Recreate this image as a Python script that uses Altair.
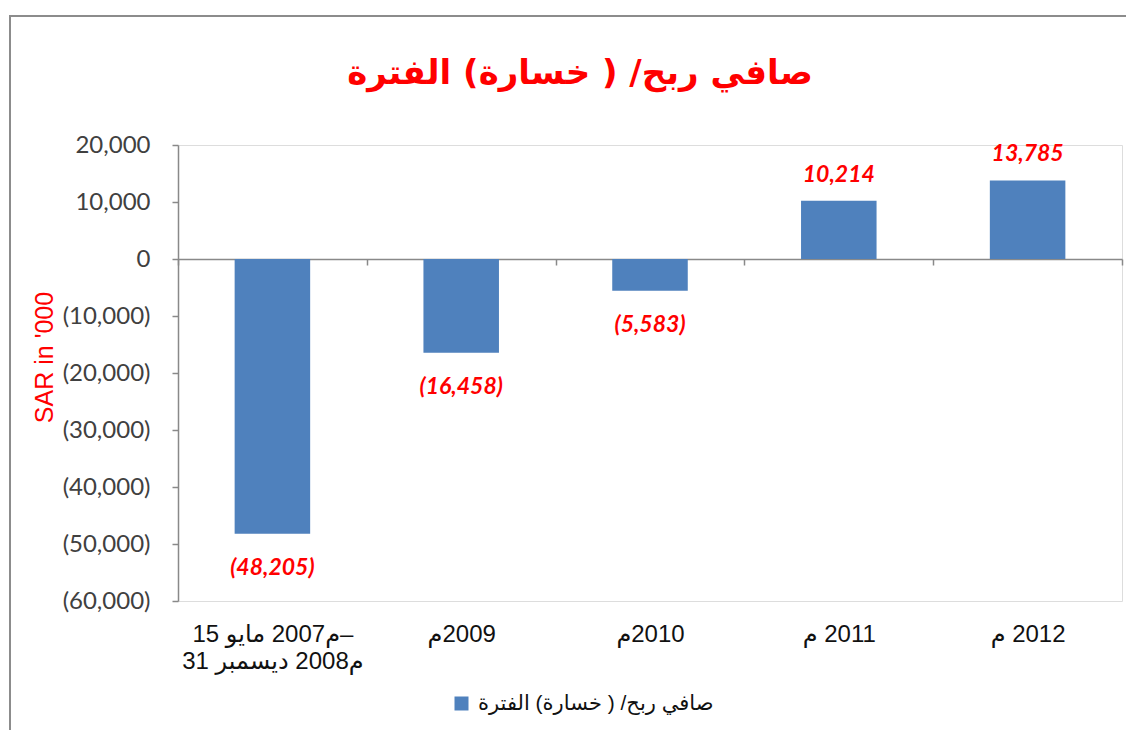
import altair as alt
import pandas as pd

LRM = "\u200e"
categories = [
    LRM + "15 مايو " + LRM + "2007م" + LRM + "–|" + LRM + "31 ديسمبر " + LRM + "2008م",
    LRM + "م" + LRM + "2009",
    LRM + "م" + LRM + "2010",
    LRM + "م " + LRM + "2011",
    LRM + "م " + LRM + "2012",
]
values = [-48205, -16458, -5583, 10214, 13785]
series_name = "صافي ربح/ ( خسارة) الفترة"
y_ticks = [20000, 10000, 0, -10000, -20000, -30000, -40000, -50000, -60000]
chart_title = "صافي ربح/ ( خسارة) الفترة"
y_title = "SAR in '000"

df = pd.DataFrame({"cat": categories, "value": values, "series": [series_name] * len(values)})

AX = "#898989"
ARFONT = "Liberation Sans, DejaVu Sans"

base = alt.Chart(df).transform_calculate(
    lbl="datum.value < 0 ? '(' + format(-datum.value, ',') + ')' : format(datum.value, ',')"
)

x_enc = alt.X(
    "cat:N",
    sort=categories,
    scale=alt.Scale(paddingInner=0, paddingOuter=0),
    axis=alt.Axis(
        title=None,
        orient="bottom",
        offset=-342,
        domainColor=AX,
        domainWidth=1.5,
        tickColor=AX,
        tickWidth=1.5,
        tickSize=6,
        tickBand="extent",
        labelPadding=357,
        labelFont=ARFONT,
        labelFontSize=24,
        labelColor="#111111",
        labelAngle=0,
        labelLimit=400,
        labelExpr="split(datum.label, '|')",
        labelLineHeight=27,
    ),
)

y_enc = alt.Y(
    "value:Q",
    scale=alt.Scale(domain=[-60000, 20000], nice=False, zero=False),
    axis=alt.Axis(
        values=y_ticks,
        title=y_title,
        titleColor="#ff0000",
        titleFont="Liberation Sans",
        titleFontSize=25,
        titleFontWeight="normal",
        titleX=-121,
        titleY=212,
        labelExpr="datum.value < 0 ? '(' + format(-datum.value, ',') + ')' : format(datum.value, ',')",
        labelFont="Lato",
        labelFontSize=24,
        labelColor="#404040",
        labelPadding=22,
        tickSize=6,
        tickColor=AX,
        tickWidth=1.5,
        domainColor=AX,
        domainWidth=1.5,
        grid=False,
    ),
)

bars = base.mark_bar(width=alt.RelativeBandSize(0.4)).encode(
    x=x_enc,
    y=y_enc,
    color=alt.Color(
        "series:N",
        scale=alt.Scale(range=["#4F81BD"]),
        legend=alt.Legend(
            title=None,
            orient="none",
            legendX=273,
            legendY=548,
            symbolType="square",
            symbolSize=196,
            symbolStrokeWidth=0,
            labelFont=ARFONT,
            labelFontSize=21,
            labelColor="#111111",
            labelOffset=6,
            labelLimit=500,
        ),
    ),
)

text_style = dict(font="Lato", fontSize=23, fontWeight="bold", fontStyle="italic", color="#ff0000")

pos_labels = base.transform_filter("datum.value >= 0").mark_text(
    baseline="bottom", dy=-14, **text_style
).encode(x=alt.X("cat:N", sort=categories), y=alt.Y("value:Q"), text="lbl:N")

neg_labels = base.transform_filter("datum.value < 0").mark_text(
    baseline="top", dy=23, **text_style
).encode(x=alt.X("cat:N", sort=categories), y=alt.Y("value:Q"), text="lbl:N")

border = alt.Chart(alt.Data(values=[{"k": 1}])).mark_rect(
    filled=False, stroke="#8c8c8c", strokeWidth=2
).encode(
    x=alt.value(-168), x2=alt.value(1000), y=alt.value(-129), y2=alt.value(700)
)

chart = alt.layer(border, bars, pos_labels, neg_labels).properties(
    width=944,
    height=456,
    autosize=alt.AutoSizeParams(type="none"),
    padding={"left": 170, "top": 137, "right": 4, "bottom": 129},
    title=alt.Title(
        chart_title,
        font="DejaVu Sans",
        fontSize=34,
        fontWeight="bold",
        color="#ff0000",
        anchor="middle",
        dx=-70,
        offset=-76,
    ),
).configure_view(stroke=None).configure(background="white")

chart.save("out.html", embed_options={"renderer": "svg", "actions": False})
